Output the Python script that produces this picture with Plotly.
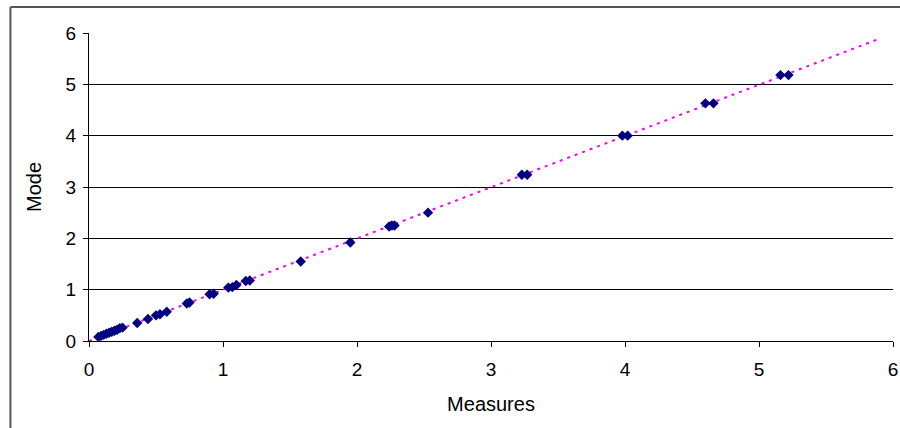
import plotly.graph_objects as go

# Data (Measures vs Model)
measures = [0.07, 0.09, 0.11, 0.13, 0.15, 0.17, 0.19, 0.21, 0.23, 0.25,
            0.36, 0.44, 0.50, 0.53, 0.58, 0.73, 0.75, 0.90, 0.93,
            1.04, 1.07, 1.10, 1.17, 1.20, 1.58, 1.95,
            2.24, 2.26, 2.28, 2.53, 3.23, 3.27, 3.98, 4.02,
            4.60, 4.66, 5.16, 5.22]
model = [0.08, 0.10, 0.12, 0.14, 0.16, 0.18, 0.20, 0.22, 0.25, 0.26,
         0.35, 0.43, 0.50, 0.52, 0.57, 0.73, 0.75, 0.91, 0.92,
         1.04, 1.05, 1.09, 1.17, 1.18, 1.55, 1.92,
         2.23, 2.25, 2.25, 2.50, 3.24, 3.24, 4.00, 4.00,
         4.63, 4.63, 5.18, 5.18]

trend_x = [0.0, 5.88]
trend_y = [0.0, 5.87]

x_ticks = [0, 1, 2, 3, 4, 5, 6]
y_ticks = [0, 1, 2, 3, 4, 5, 6]

FONT = "Liberation Sans, Arial, sans-serif"

fig = go.Figure()
fig.add_trace(go.Scatter(
    x=trend_x, y=trend_y, mode="lines",
    line=dict(color="#FF00FF", width=2, dash="3px,5px"),
    hoverinfo="skip", showlegend=False, cliponaxis=False))
fig.add_trace(go.Scatter(
    x=measures, y=model, mode="markers",
    marker=dict(symbol="diamond", size=8, color="#000080",
                line=dict(width=0)),
    showlegend=False, cliponaxis=False))

fig.update_layout(
    width=900, height=428,
    margin=dict(l=89, r=7, t=33, b=87, autoexpand=False),
    paper_bgcolor="white", plot_bgcolor="white",
    font=dict(family=FONT, color="black"),
    showlegend=False,
    xaxis=dict(
        range=[0, 6], tickvals=x_ticks, ticktext=[str(v) for v in x_ticks],
        automargin=False,
        showgrid=False, zeroline=False,
        showline=True, linecolor="black", linewidth=1,
        ticks="outside", ticklen=5, tickcolor="black", tickwidth=1,
        ticklabelstandoff=6,
        tickfont=dict(size=19, family=FONT, color="black"),
        title=dict(text="Measures", font=dict(size=20, family=FONT), standoff=18),
    ),
    yaxis=dict(
        range=[0, 6], tickvals=y_ticks, ticktext=[str(v) for v in y_ticks],
        automargin=False,
        showgrid=True, gridcolor="black", gridwidth=1, zeroline=False,
        showline=True, linecolor="black", linewidth=1,
        ticks="outside", ticklen=5, tickcolor="black", tickwidth=1,
        ticklabelstandoff=3,
        tickfont=dict(size=19, family=FONT, color="black"),
        title=dict(text="Mode", font=dict(size=20, family=FONT), standoff=18),
    ),
    shapes=[
        dict(type="line", xref="paper", yref="paper",
             x0=-0.0977, x1=-0.0977, y0=-0.30, y1=1.0844,
             line=dict(color="#555555", width=2)),
        dict(type="line", xref="paper", yref="paper",
             x0=-0.0977, x1=1.02, y0=1.0844, y1=1.0844,
             line=dict(color="#555555", width=2)),
    ],
)

fig.write_html("out.html", config={"displayModeBar": False},
               post_script="document.body.style.margin='0';")
